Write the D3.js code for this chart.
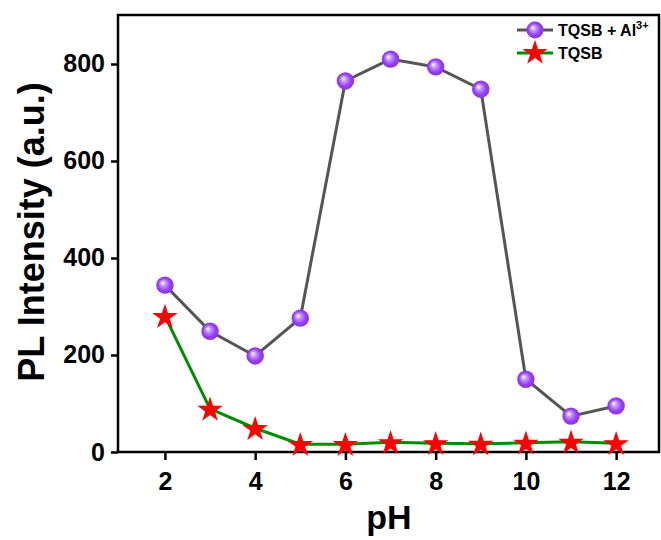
<!DOCTYPE html>
<html><head><meta charset="utf-8">
<script src="https://cdn.jsdelivr.net/npm/d3@7"></script>
<style>body{margin:0;background:#fff}svg{display:block;font-family:"Liberation Sans",Arial,sans-serif}</style>
</head><body><svg id="c" width="661" height="540"></svg>
<script>
const pH = [2,3,4,5,6,7,8,9,10,11,12];
const alValues = [344,249,198,276,765,810,794,748,150,74,95];
const tqsbValues = [280,89,49,16,16,20,18,17,19,21,18];
const xTicks = [2,4,6,8,10,12];
const yTicks = [0,200,400,600,800];
const seriesNames = ["TQSB + Al", "TQSB"];

const svg = d3.select("#c");
const L=118, R=659, T=15, B=452;
const x = d3.scaleLinear().domain([0.96,12.95]).range([L,R]);
const y = d3.scaleLinear().domain([0,901]).range([B,T]);

const defs = svg.append("defs");
const g = defs.append("radialGradient").attr("id","sph").attr("cx","50%").attr("cy","50%").attr("r","50%").attr("fx","35%").attr("fy","35%");
g.append("stop").attr("offset","0%").attr("stop-color","#ffffff");
g.append("stop").attr("offset","28%").attr("stop-color","#c7a0ff");
g.append("stop").attr("offset","70%").attr("stop-color","#9a3ff5");
g.append("stop").attr("offset","100%").attr("stop-color","#8a30ee");

// axes
const xa = svg.append("g").attr("transform",`translate(0,${B})`).call(d3.axisBottom(x).tickValues(xTicks).tickSize(8).tickPadding(7));
const ya = svg.append("g").attr("transform",`translate(${L},0)`).call(d3.axisLeft(y).tickValues(yTicks).tickSize(7).tickPadding(6));
[xa,ya].forEach(a=>{
  a.select(".domain").remove();
  a.selectAll(".tick line").attr("stroke","#000").attr("stroke-width",2.5);
  a.selectAll(".tick text").attr("fill","#000").style("font-size","25px").style("font-weight","bold");
});
xa.selectAll(".tick text").attr("dy","0.9em");
svg.append("rect").attr("x",L).attr("y",T).attr("width",R-L).attr("height",B-T).attr("fill","none").attr("stroke","#000").attr("stroke-width",2.5);

// titles
svg.append("text").attr("x",389).attr("y",529).attr("text-anchor","middle").style("font-size","34px").style("font-weight","bold").text("pH");
svg.append("text").attr("transform","translate(44,232) rotate(-90)").attr("text-anchor","middle").style("font-size","36px").style("font-weight","bold").text("PL Intensity (a.u.)");

const line = d3.line().x((d,i)=>x(pH[i])).y(d=>y(d));
svg.append("path").datum(alValues).attr("d",line).attr("fill","none").attr("stroke","#555").attr("stroke-width",3);
svg.append("path").datum(tqsbValues).attr("d",line).attr("fill","none").attr("stroke","#008c00").attr("stroke-width",3);

const star = d3.symbol().type(d3.symbolStar).size(200);
svg.selectAll(".st").data(tqsbValues).enter().append("path").attr("d",star)
  .attr("transform",(d,i)=>`translate(${x(pH[i])},${y(d)+1})`).attr("fill","#ff0000");
svg.selectAll(".sp").data(alValues).enter().append("circle")
  .attr("cx",(d,i)=>x(pH[i])).attr("cy",d=>y(d)).attr("r",8.7).attr("fill","url(#sph)");

// legend
const lg = svg.append("g");
lg.append("line").attr("x1",517).attr("x2",553).attr("y1",30).attr("y2",30).attr("stroke","#555").attr("stroke-width",3);
lg.append("circle").attr("cx",535).attr("cy",30).attr("r",8.5).attr("fill","url(#sph)");
lg.append("line").attr("x1",517).attr("x2",553).attr("y1",53).attr("y2",53).attr("stroke","#008c00").attr("stroke-width",3);
lg.append("path").attr("d",star).attr("transform","translate(535,53)").attr("fill","#ff0000");
const t1 = lg.append("text").attr("x",558).attr("y",36).style("font-size","16px").style("font-weight","bold").text(seriesNames[0]);
t1.append("tspan").attr("dy",-7).style("font-size","11px").text("3+");
lg.append("text").attr("x",558).attr("y",59).style("font-size","16px").style("font-weight","bold").text(seriesNames[1]);
</script></body></html>
